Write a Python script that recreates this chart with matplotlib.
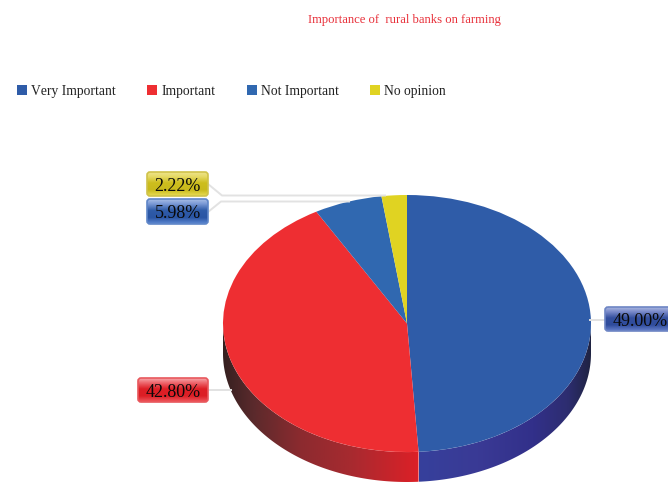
import numpy as np
import matplotlib
matplotlib.use("Agg")
import matplotlib.pyplot as plt
from matplotlib.colors import LinearSegmentedColormap
from matplotlib.patches import FancyBboxPatch, Polygon

plt.rcParams["font.family"] = ["Liberation Serif", "DejaVu Serif"]
plt.rcParams["text.kerning_factor"] = 6

categories = ["Very Important", "Important", "Not Important", "No opinion"]
values = [49.00, 42.80, 5.98, 2.22]
title = "Importance of  rural banks on farming"

colors = ["#2F5CA8", "#EE2E32", "#3068B0", "#E0D322"]
DEPTH = 0.233  # pie thickness, in units of the pie radius

fig = plt.figure(figsize=(6.68, 4.82), dpi=100, facecolor="white")

# overlay in pixel coordinates for the title, legend and label boxes
over = fig.add_axes([0, 0, 1, 1], zorder=3)
over.patch.set_alpha(0)
over.axis("off")

# top face of the pie, squashed into an ellipse; the axes also hold the wall below it
ax = fig.add_axes([223 / 668, 0, 368 / 668, 287 / 482], zorder=2)
wedges, _ = ax.pie(values, colors=colors, startangle=90, counterclock=False, radius=1)
for w in wedges:
    w.set_zorder(2)

# side wall, shaded along x
wall_cmaps = [
    LinearSegmentedColormap.from_list("w0", [(0, "#36409C"), (0.34, "#3A3A95"), (0.66, "#32308A"),
                                             (0.86, "#2D2D70"), (1, "#1F2340")]),
    LinearSegmentedColormap.from_list("w1", [(0, "#DD2027"), (0.34, "#A82A30"), (0.61, "#8B2A2F"),
                                             (0.85, "#5A2A2C"), (1, "#352020")]),
]
fractions = np.array(values) / sum(values)
edges = np.concatenate([[0], np.cumsum(fractions)]) * 360  # degrees clockwise from the top
seam_x = np.sin(np.radians(edges[1]))
grad = np.linspace(0, 1, 256).reshape(1, -1)
wall_extents = [(seam_x, 1), (seam_x, -1)]
for i, cmap in enumerate(wall_cmaps):
    steps = np.radians(np.linspace(max(edges[i], 90), min(edges[i + 1], 270), 120))
    xs, ys = np.sin(steps), np.cos(steps)
    outline = np.vstack([np.column_stack([xs, ys]),
                         np.column_stack([xs[::-1], ys[::-1] - DEPTH])])
    poly = Polygon(outline, closed=True, fc="none", ec="none", transform=ax.transData)
    ax.add_patch(poly)
    left, right = wall_extents[i]
    im = ax.imshow(grad, cmap=cmap, aspect="auto", zorder=1, interpolation="bilinear",
                   extent=(left, right, -1 - DEPTH, 1))
    im.set_clip_path(poly)

ax.set_aspect("auto")
ax.set_xlim(-1, 1)
ax.set_ylim(-1 - DEPTH, 1)

# leader lines
line_color = "#E2E2E2"
over.plot([208, 222, 385], [184, 195.5, 195.5], color=line_color, lw=1.4, zorder=1)
over.plot([208, 221, 349], [212, 201.5, 201.5], color=line_color, lw=1.4, zorder=1)
over.plot([208, 231], [390, 390], color=line_color, lw=1.4, zorder=1)
over.plot([590, 605], [319.5, 319.5], color=line_color, lw=1.4, zorder=1)


def label_box(x0, y0, x1, y1, stops, edge, text):
    box = FancyBboxPatch((x0 + 3, y0 + 3), x1 - x0 - 6, y1 - y0 - 6,
                         boxstyle="round,pad=3,rounding_size=3",
                         fc="none", ec=edge, lw=1.2, zorder=6)
    over.add_patch(box)
    cmap = LinearSegmentedColormap.from_list("gloss", stops)
    shade = np.linspace(0, 1, 64).reshape(-1, 1)
    im = over.imshow(shade, cmap=cmap, extent=(x0, x1, y1, y0), aspect="auto",
                     origin="upper", zorder=5)
    im.set_clip_path(box)
    over.text((x0 + x1) / 2, (y0 + y1) / 2 + 2.5, text, ha="center", va="center",
              fontsize=13, color="#0A0A0A", zorder=8)


blue_gloss = [(0, "#A9BEE6"), (0.18, "#7C9AD6"), (0.45, "#2F5CA8"), (0.75, "#2A55A4"), (1, "#5E8AD4")]
label_box(147, 172, 208, 196,
          [(0, "#EEE48C"), (0.18, "#E6DA66"), (0.45, "#CDBE1E"), (0.75, "#C9BA1C"), (1, "#E8DC55")],
          "#CFC24A", f"{values[3]:.2f}%")
label_box(147, 199, 208, 224, blue_gloss, "#5F86C8", f"{values[2]:.2f}%")
label_box(138, 378, 208, 402,
          [(0, "#F6A8AC"), (0.18, "#EE6A70"), (0.45, "#DE1F26"), (0.75, "#DC1E25"), (1, "#F0585E")],
          "#E8575C", f"{values[1]:.2f}%")
label_box(605, 307, 676, 331,
          [(0, "#A9B6E0"), (0.18, "#7C8CCB"), (0.45, "#34509F"), (0.75, "#2F4C9C"), (1, "#6680CC")],
          "#6D85C4", f"{values[0]:.2f}%")

over.set_xlim(0, 668)
over.set_ylim(482, 0)

over.text(404.5, 20.5, title, ha="center", va="center", fontsize=9.1, color="#E8303A")

leg = over.legend(wedges, categories, loc="upper left", bbox_to_anchor=(14 / 668, 1 - 82 / 482),
                  ncol=4, frameon=False, fontsize=9.8, handlelength=0.75, handleheight=0.75,
                  handletextpad=0.3, columnspacing=2.3, labelcolor="#222222",
                  borderpad=0.2, borderaxespad=0)

fig.savefig("out.png", dpi=100)
